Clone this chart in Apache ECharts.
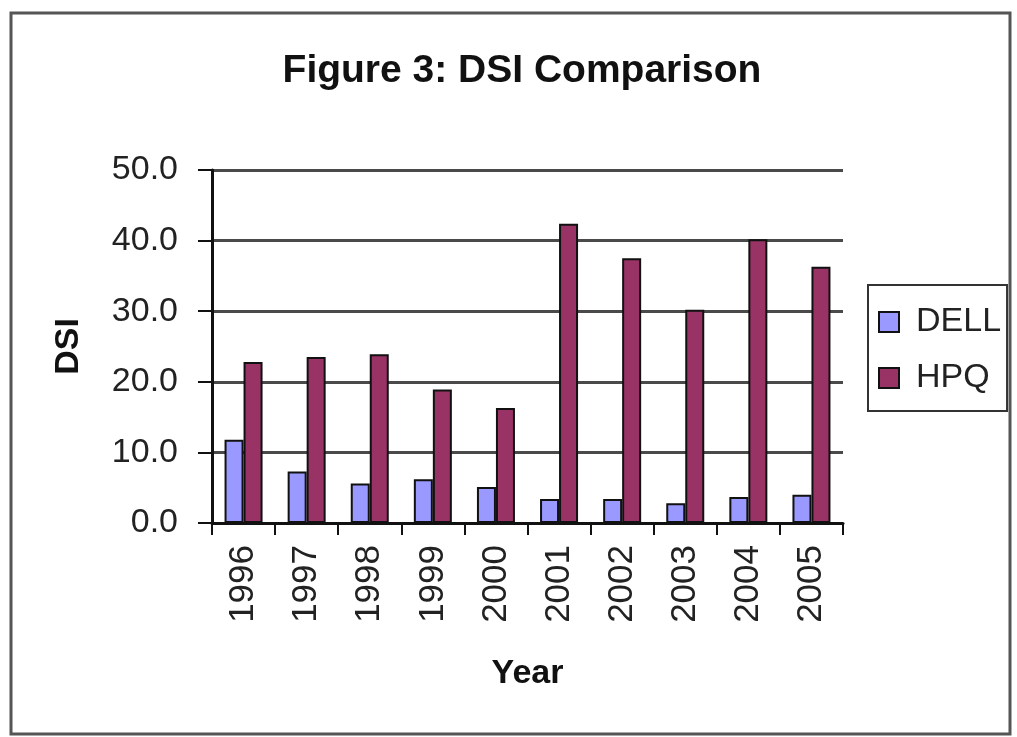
<!DOCTYPE html>
<html>
<head>
<meta charset="utf-8">
<script src="https://cdn.jsdelivr.net/npm/echarts@6/dist/echarts.min.js"></script>
<style>
html,body{margin:0;padding:0;background:#fff;}
#c{width:1017px;height:737px;}
</style>
</head>
<body>
<div id="c"></div>
<script>
var years = ['1996','1997','1998','1999','2000','2001','2002','2003','2004','2005'];
var dell = [11.8, 7.3, 5.6, 6.2, 5.1, 3.4, 3.4, 2.8, 3.7, 4.0];
var hpq = [22.8, 23.5, 23.9, 18.9, 16.3, 42.4, 37.5, 30.2, 40.2, 36.3];
var seriesNames = ['DELL', 'HPQ'];
var titleText = 'Figure 3: DSI Comparison';
var yName = 'DSI';
var xName = 'Year';

var FONT = 'Liberation Sans, Arial, sans-serif';
var chart = echarts.init(document.getElementById('c'));
chart.setOption({
  backgroundColor: '#fff',
  animation: false,
  textStyle: {fontFamily: FONT},
  graphic: [
    {type: 'rect', shape: {x: 11, y: 13, width: 999, height: 721},
     style: {fill: 'none', stroke: '#555', lineWidth: 3}, z: -1}
  ],
  title: {
    text: titleText, left: 517, top: 47, textAlign: 'center',
    textStyle: {fontSize: 39, fontWeight: 'bold', color: '#111', fontFamily: FONT}
  },
  legend: {
    orient: 'vertical', left: 868, top: 285,
    data: seriesNames,
    icon: 'rect', itemWidth: 20, itemHeight: 20, itemGap: 22,
    padding: [20, 6, 16, 10],
    borderColor: '#333', borderWidth: 2,
    textStyle: {fontSize: 34, color: '#222', fontFamily: FONT, padding: [0, 0, 0, 12]}
  },
  grid: {left: 212, right: 174, top: 170, bottom: 214, containLabel: false},
  xAxis: {
    type: 'category', data: years,
    name: xName, nameLocation: 'middle', nameGap: 134,
    nameTextStyle: {fontSize: 34, fontWeight: 'bold', color: '#111', fontFamily: FONT},
    axisLine: {lineStyle: {color: '#111', width: 3}},
    axisTick: {show: true, length: 12, lineStyle: {color: '#111', width: 2}},
    axisLabel: {rotate: 90, fontSize: 35, color: '#222', margin: 22, fontFamily: FONT}
  },
  yAxis: {
    type: 'value', min: 0, max: 50, interval: 10,
    name: yName, nameLocation: 'middle', nameGap: 126, nameRotate: 90,
    nameTextStyle: {fontSize: 34, fontWeight: 'bold', color: '#111', fontFamily: FONT},
    axisLine: {show: true, lineStyle: {color: '#111', width: 3}},
    axisTick: {show: true, length: 14, lineStyle: {color: '#111', width: 2}},
    axisLabel: {fontSize: 34, color: '#222', margin: 34, fontFamily: FONT,
      formatter: function (v) { return v.toFixed(1); }},
    splitLine: {lineStyle: {color: '#4a4a4a', width: 3}}
  },
  series: [
    {name: seriesNames[0], type: 'bar', data: dell, barWidth: 19, barGap: '0%',
     itemStyle: {color: '#9999FF', borderColor: '#111', borderWidth: 2}},
    {name: seriesNames[1], type: 'bar', data: hpq, barWidth: 19, barGap: '0%',
     itemStyle: {color: '#993366', borderColor: '#111', borderWidth: 2}}
  ]
});
</script>
</body>
</html>
